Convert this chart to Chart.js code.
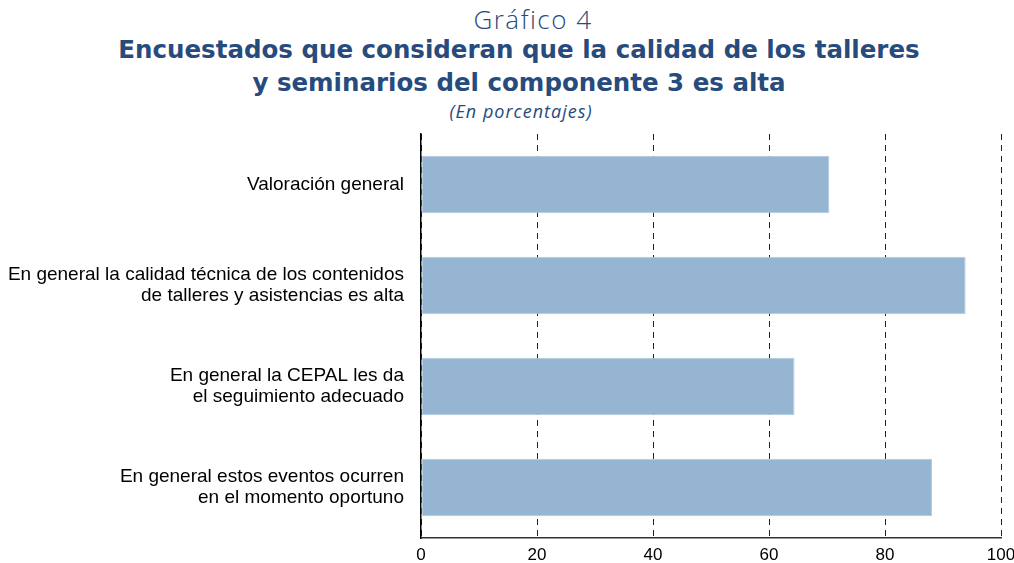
<!DOCTYPE html>
<html>
<head>
<meta charset="utf-8">
<script src="https://cdn.jsdelivr.net/npm/chart.js@4"></script>
<style>
  body { margin: 0; background: #fff; width: 1014px; height: 563px; position: relative; overflow: hidden; }
  .t { position: absolute; text-align: center; color: #274b7c; white-space: nowrap; }
  #num { left: 0; width: 1066px; top: 1px; font-size: 26px; font-weight: 300; font-family: "Open Sans", sans-serif; letter-spacing: 1.5px; }
  #title { left: 0; width: 1038px; top: 33px; font-size: 24.5px; font-weight: bold; line-height: 33px; font-family: "DejaVu Sans", sans-serif; }
  #sub { left: 0; width: 1042px; top: 99px; font-size: 18px; font-style: italic; font-weight: 400; font-family: "Open Sans", sans-serif; letter-spacing: 1px; }
  #wrap { position: absolute; left: 0; top: 0; width: 1014px; height: 563px; }
</style>
</head>
<body>
<div class="t" id="num">Gráfico 4</div>
<div class="t" id="title">Encuestados que consideran que la calidad de los talleres<br>y seminarios del componente 3 es alta</div>
<div class="t" id="sub">(En porcentajes)</div>
<div id="wrap"><canvas id="chart" width="1014" height="563"></canvas></div>
<script>
// Categories (multi-line labels)
const categories = [
    ['Valoración general'],
    ['En general la calidad técnica de los contenidos', 'de talleres y asistencias es alta'],
    ['En general la CEPAL les da', 'el seguimiento adecuado'],
    ['En general estos eventos ocurren', 'en el momento oportuno']
];
// Percentages
const values = [70.4, 93.9, 64.4, 88.1];
const xTicks = [0, 20, 40, 60, 80, 100];

const ctx = document.getElementById('chart').getContext('2d');
new Chart(ctx, {
    type: 'bar',
    data: {
        labels: categories,
        datasets: [{
            data: values,
            backgroundColor: '#95b5d3',
            borderColor: '#b3cbe2',
            borderWidth: 1,
            borderSkipped: false,
            categoryPercentage: 1,
            barPercentage: 0.57
        }]
    },
    options: {
        indexAxis: 'y',
        responsive: false,
        animation: false,
        layout: { padding: { top: 134, right: 0, bottom: 0, left: 0 } },
        plugins: { legend: { display: false }, tooltip: { enabled: false } },
        scales: {
            x: {
                min: 0,
                max: 100,
                afterBuildTicks: axis => { axis.ticks = xTicks.map(v => ({ value: v })); },
                // keep the axis band thin and the plot close to the right edge
                afterFit: axis => { axis.height = 25; axis.paddingRight = 13; },
                grid: { color: '#222', lineWidth: 1, drawTicks: false },
                border: { display: true, color: '#333', width: 1.5, dash: [6, 5] },
                ticks: {
                    color: '#000',
                    padding: 7,
                    font: { family: 'Liberation Sans, Arial, sans-serif', size: 17 }
                }
            },
            y: {
                grid: { display: false, drawTicks: false },
                border: { display: true, color: '#000', width: 1.5 },
                afterFit: axis => { axis.width = 421; axis.paddingBottom = 0; axis.paddingTop = 0; },
                ticks: {
                    color: '#000',
                    padding: 17,
                    font: { family: 'Liberation Sans, Arial, sans-serif', size: 19, lineHeight: 1.1 }
                }
            }
        }
    }
});
</script>
</body>
</html>
